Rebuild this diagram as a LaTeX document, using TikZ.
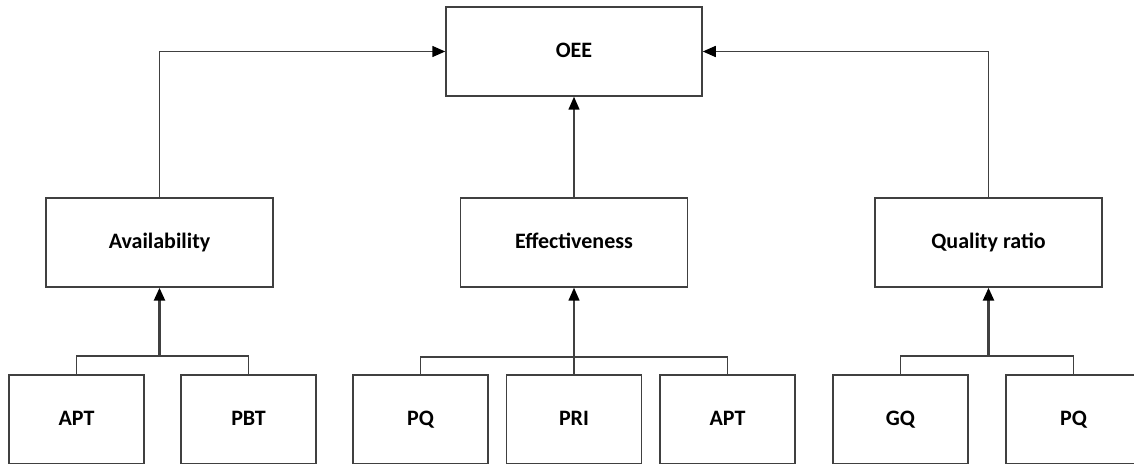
\documentclass[tikz,border=0pt]{standalone}
\usepackage{fontspec}
\setmainfont{Carlito}
\usetikzlibrary{arrows.meta}
\tikzset{
  box/.style={draw=black!75, line width=0.75pt, fill=white, minimum height=44.5pt, inner sep=0pt,
    text height=1.6ex, text depth=0.3ex, font=\fontsize{11}{13}\selectfont\bfseries},
  topbox/.style={box, minimum width=128pt},
  midbox/.style={box, minimum width=113.5pt},
  leafbox/.style={box, minimum width=67.5pt},
  link/.style={draw=black!75, line width=0.75pt},
  up/.style={link, -{Triangle[length=6.5pt,width=5.5pt,color=black]}},
  upbold/.style={up, line width=1.3pt}
}
\begin{document}
\begin{tikzpicture}[x=0.5pt, y=-0.5pt]
	\useasboundingbox (0,0) rectangle (1134,464);
	
	\node[topbox] (oee) at (574, 51.5) {OEE};
	
	\node[midbox] (avail) at (159.5, 242.5) {Availability};
	\node[midbox] (effect) at (574, 242.5) {Effectiveness};
	\node[midbox] (quality) at (988.5, 242.5) {Quality ratio};
	
	\node[leafbox] (apta) at (76.5, 419.5) {APT};
	\node[leafbox] (pbt) at (248.5, 419.5) {PBT};
	\node[leafbox] (pqa) at (420.5, 419.5) {PQ};
	\node[leafbox] (pri) at (574, 419.5) {PRI};
	\node[leafbox] (aptb) at (727.5, 419.5) {APT};
	\node[leafbox] (gq) at (900.5, 419.5) {GQ};
	\node[leafbox] (pqb) at (1073.5, 419.5) {PQ};
	
	\coordinate (ja) at (159.5, 356);
	\coordinate (je) at (574, 357);
	\coordinate (jq) at (988.5, 356);
	
	\draw[link] (apta.north) |- (ja) -| (pbt.north);
	\draw[upbold] (ja) -- (avail.south);
	
	\draw[link] (pqa.north) |- (je) -| (aptb.north);
	\draw[up] (pri.north) -- (effect.south);
	
	\draw[link] (gq.north) |- (jq) -| (pqb.north);
	\draw[upbold] (jq) -- (quality.south);
	
	\draw[up] (avail.north) |- (oee.west);
	\draw[up] (effect.north) -- (oee.south);
	\draw[up] (quality.north) |- (oee.east);
\end{tikzpicture}
\end{document}
